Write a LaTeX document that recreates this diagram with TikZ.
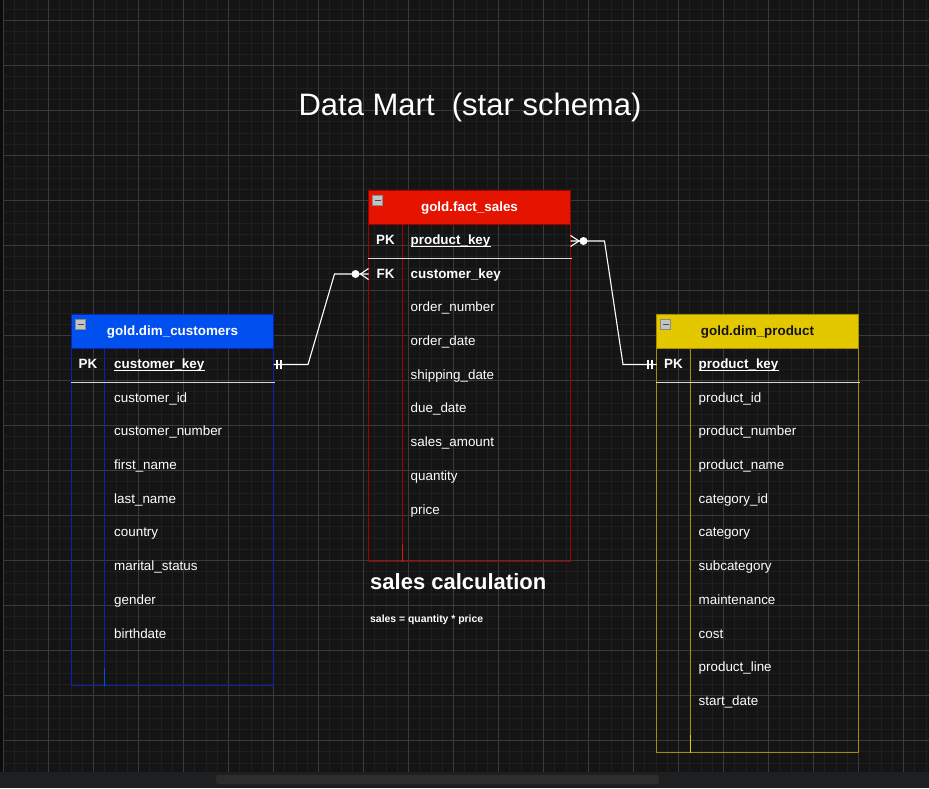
\documentclass[tikz,border=0pt]{standalone}
\usepackage{fontspec}
\setmainfont{Liberation Sans}
\usetikzlibrary{calc}
\definecolor{bg}{HTML}{141414}
\definecolor{minorgrid}{HTML}{1F1F1F}
\definecolor{majorgrid}{HTML}{3A3A3A}
\definecolor{redfill}{HTML}{E51400}
\definecolor{redline}{HTML}{A00000}
\definecolor{bluefill}{HTML}{0050EF}
\definecolor{blueline}{HTML}{0A22B8}
\definecolor{yelfill}{HTML}{E3C800}
\definecolor{yelline}{HTML}{A68C00}
\definecolor{barbg}{HTML}{1E1F21}
\definecolor{thumb}{HTML}{2D2D2D}
\definecolor{strip}{HTML}{0B0B0B}
\definecolor{iconfill}{HTML}{C4C4C4}
\definecolor{iconline}{HTML}{8A8A8A}
\definecolor{iconbarc}{HTML}{4A4A4A}
\definecolor{sepgray}{HTML}{DADADA}
\tikzset{
  headbox/.style={anchor=north west, minimum width=202pt, minimum height=34pt, inner sep=0pt, outer sep=0pt, line width=1pt},
  bodybox/.style={anchor=north west, minimum width=202pt, inner sep=0pt, outer sep=0pt, line width=1pt},
  tableline/.style={line width=1pt},
  rowtext/.style={anchor=base west, inner sep=0pt, text=white, font=\fontsize{13.4}{16}\selectfont},
  keytext/.style={anchor=base west, inner sep=0pt, text=white, font=\fontsize{13.4}{16}\selectfont\bfseries},
  pktext/.style={anchor=base, inner sep=0pt, text=white, font=\fontsize{13.4}{16}\selectfont\bfseries},
  headtext/.style={anchor=base, inner sep=0pt, font=\fontsize{13.4}{16}\selectfont\bfseries},
  iconbox/.style={draw=iconline, fill=iconfill, minimum size=10pt, inner sep=0pt, line width=0.6pt},
  iconbar/.style={draw=iconbarc, line width=1.5pt},
  sepline/.style={draw=sepgray, line width=1.4pt},
  uline/.style={draw=white, line width=0.9pt},
  conn/.style={draw=white, line width=1.1pt},
  tick/.style={draw=white, line width=1.1pt},
}
% #1 name, #2 X, #3 T, #4 rows, #5 fill, #6 line, #7 title colour, #8 title, #9 inner column offset
\newcommand\ertable[9]{%
  \node[headbox, fill=#5, draw=#6] (#1head) at (#2,#3) {};
  \node[bodybox, draw=#6, minimum height={#4*33.7pt}] (#1body) at (#2,#3+34) {};
  \draw[#6, tableline] (#2+#9,#3+34) -- (#2+#9,#3+34+#4*33.7);
  \draw[#5, line width=1.6pt] (#2+#9,#3+34+#4*33.7-18) -- (#2+#9,#3+34+#4*33.7);
  \node[headtext, text=#7] (#1title) at (#2+101,#3+20.5) {#8};
  \node[iconbox] (#1icon) at (#2+9,#3+10) {};
  \draw[iconbar] ($(#1icon.center)+(-3,0)$) -- ($(#1icon.center)+(3,0)$);
  \draw[sepline] (#2-1,#3+34+33.7) -- (#2+203,#3+34+33.7);
  \node[pktext] (#1pk) at (#2+#9/2,#3+54) {PK};
}
\begin{document}
\begin{tikzpicture}[x=1pt,y=-1pt]
\useasboundingbox (0,0) rectangle (929,788);
\fill[bg] (0,0) rectangle (929,788);
% grid
\begin{scope}
  \clip (3,0) rectangle (929,772);
  \foreach \k in {0,...,83} \draw[minorgrid, line width=1pt] ({3.5+11.25*\k},0) -- ++(0,772);
  \foreach \k in {-2,...,68} \draw[minorgrid, line width=1pt] (0,{20.5+11.25*\k}) -- ++(929,0);
  \foreach \k in {0,...,20} \draw[majorgrid, line width=1pt] ({3.5+45*\k},0) -- ++(0,772);
  \foreach \k in {0,...,17} \draw[majorgrid, line width=1pt] (0,{20.5+45*\k}) -- ++(929,0);
\end{scope}
\fill[strip] (0,0) rectangle (3,772);
\fill[barbg] (0,772) rectangle (929,788);
\fill[thumb, rounded corners=2.5pt] (216,775) rectangle (659,784);

% title
\node[anchor=base, inner sep=0pt, text=white, font=\fontsize{31}{36}\selectfont] (title) at (470,115) {Data Mart\ \ (star schema)};

% tables
\ertable{cust}{71.5}{314.5}{10}{bluefill}{blueline}{white}{gold.dim\_customers}{33}
\ertable{fact}{368.5}{190.5}{10}{redfill}{redline}{white}{gold.fact\_sales}{34}
\ertable{prod}{656.5}{314.5}{12}{yelfill}{yelline}{black!92}{gold.dim\_product}{34}

% customers rows
\node[keytext] (custpkname) at (114,368.45) {customer\_key};
\draw[uline] ($(custpkname.base west)+(0,2.3)$) -- ($(custpkname.base east)+(0,2.3)$);
\foreach \t [count=\i] in {customer\_id, customer\_number, first\_name, last\_name, country, marital\_status, gender, birthdate}
  \node[rowtext] (custrow\i) at (114,{368.45+33.7*\i}) {\t};

% fact rows
\node[keytext] (factpkname) at (410.5,244.45) {product\_key};
\draw[uline] ($(factpkname.base west)+(0,2.3)$) -- ($(factpkname.base east)+(0,2.3)$);
\node[pktext] (factfk) at (385.5,278.15) {FK};
\node[keytext] (factfkname) at (410.5,278.15) {customer\_key};
\foreach \t [count=\i from 2] in {order\_number, order\_date, shipping\_date, due\_date, sales\_amount, quantity, price}
  \node[rowtext] (factrow\i) at (410.5,{244.45+33.7*\i}) {\t};

% product rows
\node[keytext] (prodpkname) at (698.5,368.45) {product\_key};
\draw[uline] ($(prodpkname.base west)+(0,2.3)$) -- ($(prodpkname.base east)+(0,2.3)$);
\foreach \t [count=\i] in {product\_id, product\_number, product\_name, category\_id, category, subcategory, maintenance, cost, product\_line, start\_date}
  \node[rowtext] (prodrow\i) at (698.5,{368.45+33.7*\i}) {\t};

% sales calculation note
\node[anchor=base west, inner sep=0pt, text=white, font=\fontsize{22}{26}\selectfont\bfseries] (calc) at (370,589.5) {sales calculation};
\node[anchor=base west, inner sep=0pt, text=white, font=\fontsize{10.4}{12}\selectfont\bfseries] (formula) at (370,622) {sales = quantity * price};

% ports
\coordinate (custport) at ($(custbody.north east)+(0,16)$);
\coordinate (factfkport) at ($(factbody.north west)+(0,49.5)$);
\coordinate (factport) at ($(factbody.north east)+(0,16.5)$);
\coordinate (prodport) at ($(prodbody.north west)+(0,16)$);

% connector customers -> fact
\draw[conn] (custport) -- ++(34.5,0) -- ($(factfkport)+(-34,0)$) -- (factfkport);
\draw[tick] ($(custport)+(3.5,-4.5)$) -- ++(0,9);
\draw[tick] ($(custport)+(7.5,-4.5)$) -- ++(0,9);
\fill[white] ($(factfkport)+(-13,0)$) circle (4pt);
\draw[conn] ($(factfkport)+(0,-5.5)$) -- ($(factfkport)+(-8,0)$) -- ($(factfkport)+(0,5.5)$);

% connector fact -> product
\draw[conn] (factport) -- ++(34,0) -- ($(prodport)+(-33.5,0)$) -- (prodport);
\draw[conn] ($(factport)+(0,-5.5)$) -- ($(factport)+(8.5,0)$) -- ($(factport)+(0,5.5)$);
\fill[white] ($(factport)+(13,0)$) circle (4pt);
\draw[tick] ($(prodport)+(-8.5,-4.5)$) -- ++(0,9);
\draw[tick] ($(prodport)+(-4.5,-4.5)$) -- ++(0,9);
\end{tikzpicture}
\end{document}
